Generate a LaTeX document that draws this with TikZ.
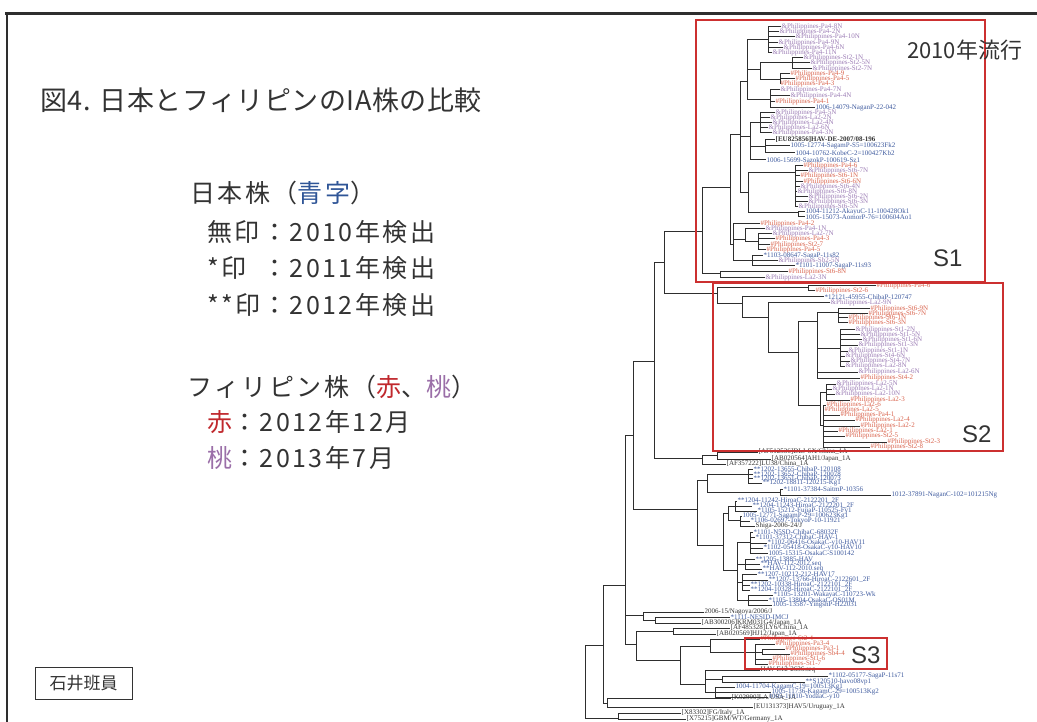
\documentclass[tikz,border=0pt]{standalone}
\usepackage{fontspec}
\setmainfont{Noto Sans CJK JP}
\newfontfamily\lgfont[LetterSpace=10]{Noto Sans CJK JP}
\newfontfamily\ttlfont[LetterSpace=2]{Noto Sans CJK JP}
\newfontfamily\treefont{Liberation Serif}
\newfontfamily\sfont{Liberation Sans}
\definecolor{tl}{HTML}{2E2E2E}
\definecolor{cpu}{HTML}{9C7DB5}
\definecolor{cre}{HTML}{D9654F}
\definecolor{cbl}{HTML}{3E5A9E}
\definecolor{cdk}{HTML}{333333}
\definecolor{boxred}{HTML}{CC3030}
\definecolor{lgblue}{HTML}{2F5597}
\definecolor{lgred}{HTML}{C0282D}
\definecolor{lgpink}{HTML}{9B6FA8}
\definecolor{txt}{HTML}{333333}
\tikzset{
  br/.style={draw=tl, line width=1pt},
  lbl/.style={anchor=west, inner sep=0.5pt, font=\treefont\fontsize{7}{7}\selectfont},
  rbox/.style={draw=boxred, line width=1.6pt},
  slab/.style={anchor=base west, inner sep=0, text=txt, font=\sfont\fontsize{24}{24}\selectfont},
  lgd/.style={anchor=west, inner sep=0, text=txt, font=\lgfont\fontsize{25}{25}\selectfont},
  frm/.style={draw=tl},
}
\newcommand\Tnd[4]{\coordinate (#2) at (#3,#4); \draw[br] (#1) |- (#2);}
\newcommand\Tlf[6]{\coordinate (#2) at (#3,#4); \draw[br] (#1) |- (#2); \node[lbl,text=#5] (#2-t) at (#2) {#6};}
\newcommand\LfP[5]{\Tlf{#1}{#2}{#3}{#4}{cpu}{\&Philippines-#5}}
\newcommand\LfR[5]{\Tlf{#1}{#2}{#3}{#4}{cre}{\#Philippines-#5}}
\newcommand\LfB[5]{\Tlf{#1}{#2}{#3}{#4}{cbl}{#5}}
\newcommand\LfD[5]{\Tlf{#1}{#2}{#3}{#4}{cdk}{#5}}
\begin{document}
\begin{tikzpicture}[x=1pt,y=-1pt]
\useasboundingbox (0,0) rectangle (1037,722);
% frame
\draw[frm, line width=3pt] (5,14) -- (1037,14);
\draw[frm, line width=2pt] (7,14) -- (7,722);
% title and legend
\node[anchor=west, inner sep=0, text=txt, font=\ttlfont\fontsize{27}{27}\selectfont] (title) at (40,100) {図4. 日本とフィリピンのIA株の比較};
\node[lgd] (lg1) at (190,193) {日本株（{\color{lgblue}青字}）};
\node[lgd] (lg2) at (207,232) {\makebox[2.2em][l]{無印}：2010年検出};
\node[lgd] (lg3) at (207,268) {\makebox[2.2em][l]{*印}：2011年検出};
\node[lgd] (lg4) at (207,305) {\makebox[2.2em][l]{**印}：2012年検出};
\node[lgd] (lg5) at (187,387) {フィリピン株（{\color{lgred}赤}、{\color{lgpink}桃}）};
\node[lgd] (lg6) at (207,422) {{\color{lgred}赤}：2012年12月};
\node[lgd] (lg7) at (207,458) {{\color{lgpink}桃}：2013年7月};
\node[draw=txt, line width=0.8pt, text=txt, font=\fontsize{17}{17}\selectfont, minimum width=97pt, minimum height=32pt, inner sep=0] (ishii) at (83.5,683) {石井班員};
% ---------------- tree ----------------
\coordinate (R) at (585,682);
\Tnd{R}{G}{603}{645}
\Tnd{R}{OG}{618}{718}
\LfD{OG}{og1}{681}{713}{[X83302]FG/Italy\_1A}
\LfD{OG}{og2}{686}{719}{[X75215]GBM/WT/Germany\_1A}
\Tnd{G}{D}{625}{585}
\Tnd{G}{H}{607}{703}
\LfD{H}{h1}{731}{698}{[K02990]LA/USA\_1A}
\LfD{H}{h2}{753}{707}{[EU131373]HAV5/Uruguay\_1A}
\Tnd{D}{C}{633}{435}
\Tnd{D}{N}{643}{615}
\Tnd{D}{F}{636}{644}
\Tnd{C}{A}{654}{361}
\Tnd{C}{J}{697}{509}
\Tnd{A}{B}{664}{263}
\Tnd{A}{AF}{702}{458}
\Tnd{AF}{AFd}{717}{455}
\LfD{AFd}{af1}{758}{452}{[AF512536]DLJ-SX/China\_1A}
\LfD{AFd}{af2}{771}{459}{[AB020564]AH1/Japan\_1A}
\LfD{AF}{af3}{726}{464}{[AF357222]LU38/China\_1A}
\Tnd{B}{S1r}{702}{232}
\Tnd{B}{S2r}{717}{294}
% S1
\Tnd{S1r}{S1a}{730}{188}
\Tnd{S1r}{S1b}{720}{274}
\LfR{S1b}{s1b1}{788}{272}{St6-8N}
\LfP{S1b}{s1b2}{765}{278}{La2-3N}
\Tnd{S1a}{S1t}{740}{135}
\Tnd{S1a}{S1u}{733}{245}
\Tnd{S1t}{P1}{747}{82}
\Tnd{S1t}{M}{750}{137}
\Tnd{S1t}{Q}{748}{193}
\Tnd{P1}{P1a}{768}{40}
\Tnd{P1}{P1b}{760}{70}
\Tnd{P1}{P1c}{770}{100}
\LfP{P1a}{p1}{781}{27}{Pa4-8N}
\LfP{P1a}{p2}{779}{32}{Pa4-2N}
\LfP{P1a}{p3}{795}{37}{Pa4-10N}
\LfP{P1a}{p4}{778}{43}{Pa4-9N}
\LfP{P1a}{p5}{783}{48}{Pa4-6N}
\LfP{P1a}{p6}{772}{53}{Pa4-11N}
\Tnd{P1b}{P1b1}{792}{63}
\Tnd{P1b}{P1b2}{780}{80}
\LfP{P1b1}{p7}{803}{58}{St2-1N}
\LfP{P1b1}{p8}{810}{63}{St2-5N}
\LfP{P1b1}{p9}{812}{69}{St2-7N}
\LfR{P1b2}{p10}{790}{74}{Pa4-9}
\LfR{P1b2}{p11}{795}{79}{Pa4-5}
\LfR{P1b2}{p12}{780}{84}{Pa4-3}
\LfP{P1c}{p13}{780}{90}{Pa4-7N}
\LfP{P1c}{p14}{790}{96}{Pa4-4N}
\LfR{P1c}{p15}{775}{102}{Pa4-1}
\LfB{P1c}{p16}{815}{108}{1006-14079-NaganP-22-042}
\Tnd{M}{M1}{760}{123}
\Tnd{M}{M2}{765}{147}
\LfP{M1}{m1}{775}{113}{Pa4-5N}
\LfP{M1}{m2}{770}{118}{La2-2N}
\LfP{M1}{m3}{772}{123}{La2-4N}
\LfP{M1}{m4}{768}{128}{La2-6N}
\LfP{M1}{m5}{772}{133}{Pa4-3N}
\LfD{M2}{m6}{775}{140}{\bfseries [EU825856]HAV-DE-2007/08-196}
\LfB{M2}{m7}{790}{146}{1005-12774-SagamP-S5=100623Fk2}
\LfB{M2}{m8}{795}{153}{1004-10762-KobeC-2=100427Kb2}
\LfB{M}{m9}{766}{160}{1006-15699-SazokP-100619-Sz1}
\Tnd{Q}{Q1}{795}{173}
\Tnd{Q}{Q2}{798}{213}
\LfR{Q1}{q1}{803}{166}{Pa4-6}
\LfP{Q1}{q2}{808}{171}{St6-7N}
\LfR{Q1}{q3}{800}{176}{St6-1N}
\LfR{Q1}{q4}{803}{182}{St6-6N}
\LfP{Q1}{q5}{800}{187}{St6-4N}
\LfP{Q1}{q6}{797}{192}{St6-8N}
\LfP{Q1}{q7}{808}{197}{St6-2N}
\LfP{Q1}{q8}{808}{202}{St6-3N}
\LfP{Q1}{q9}{798}{207}{St6-5N}
\LfB{Q2}{q10}{805}{212}{1004-11212-AkayuC-11-100428Ok1}
\LfB{Q2}{q11}{805}{217}{1005-15073-AomorP-76=100604Ao1}
\LfR{S1u}{u1}{760}{224}{Pa4-2}
\Tnd{S1u}{U1}{745}{240}
\Tnd{S1u}{U2}{752}{261}
\LfP{U1}{u2}{765}{229}{Pa4-1N}
\Tnd{U1}{U3}{758}{242}
\LfP{U3}{u3}{772}{234}{La2-7N}
\LfR{U3}{u4}{775}{239}{Pa4-3}
\LfR{U3}{u5}{770}{245}{St2-7}
\LfR{U3}{u6}{766}{250}{Pa4-5}
\LfB{U2}{u7}{763}{256}{*1103-08647-SagaP-11s82}
\LfP{U2}{u8}{778}{261}{Sb2-5N}
\LfB{U2}{u9}{795}{266}{*1101-11007-SagaP-11s93}
% S2
\Tnd{S2r}{S2a}{808}{288}
\Tnd{S2r}{S2b}{742}{304}
\LfR{S2a}{v1}{876}{286}{Pa4-6}
\LfR{S2a}{v2}{815}{291}{St2-6}
\LfB{S2b}{v3}{824}{297}{*12121-45955-ChibaP-120747}
\Tnd{S2b}{S2c}{768}{318}
\LfP{S2c}{v4}{830}{303}{La2-9N}
\Tnd{S2c}{S2d}{798}{352}
\Tnd{S2d}{S2e}{817}{322}
\Tnd{S2d}{S2h}{820}{405}
\Tnd{S2e}{S2f}{838}{313}
\Tnd{S2e}{S2g}{840}{348}
\LfR{S2f}{w1}{870}{309}{St6-9N}
\LfR{S2f}{w2}{868}{314}{St6-7N}
\LfR{S2f}{w3}{848}{318}{St6-1N}
\LfR{S2f}{w4}{848}{323}{St6-3N}
\LfP{S2g}{w5}{855}{330}{St1-2N}
\LfP{S2g}{w6}{860}{335}{St1-5N}
\LfP{S2g}{w7}{862}{340}{St1-6N}
\LfP{S2g}{w8}{858}{345}{St1-3N}
\LfP{S2g}{w9}{848}{351}{St1-1N}
\LfP{S2g}{w10}{845}{356}{St4-6N}
\LfP{S2g}{w11}{850}{361}{St4-7N}
\LfP{S2g}{w12}{845}{366}{La2-8N}
\LfP{S2e}{w13}{858}{372}{La2-6N}
\LfR{S2e}{w14}{860}{378}{St4-2}
\Tnd{S2h}{S2i}{826}{392}
\Tnd{S2h}{S2j}{823}{425}
\LfP{S2i}{x1}{836}{384}{La2-5N}
\LfP{S2i}{x2}{832}{389}{La2-1N}
\LfP{S2i}{x3}{835}{394}{La2-10N}
\LfR{S2i}{x4}{850}{400}{La2-3}
\LfR{S2j}{x5}{826}{405}{La2-6}
\LfR{S2j}{x6}{824}{410}{La2-5}
\LfR{S2j}{x7}{840}{415}{Pa4-1}
\LfR{S2j}{x8}{855}{420}{La2-4}
\LfR{S2j}{x9}{860}{426}{La2-2}
\LfR{S2j}{x10}{838}{431}{La2-1}
\LfR{S2j}{x11}{845}{436}{St2-5}
\LfR{S2j}{x12}{887}{442}{St2-3}
\LfR{S2j}{x13}{870}{447}{St2-8}
% Japan cluster
\Tnd{J}{J1}{707}{480}
\Tnd{J}{J2}{723}{545}
\Tnd{J1}{J1a}{748}{474}
\Tnd{J1}{J1b}{780}{492}
\LfB{J1a}{j1}{753}{469}{**1202-13655-ChibaP-120108}
\LfB{J1a}{j2}{753}{474}{**1202-13652-ChibaP-120078}
\LfB{J1a}{j3}{753}{478}{**1202-13651-ChibaP-120073}
\LfB{J1a}{j4}{762}{483}{**1202-18811-120215-Kg1}
\LfB{J1b}{j5}{783}{489}{*1101-37384-SaitmP-10356}
\LfB{J1b}{j6}{891}{495}{1012-37891-NaganC-102=101215Ng}
\Tnd{J2}{J2a}{728}{513}
\Tnd{J2}{J2b}{737}{570}
\Tnd{J2a}{J2a1}{735}{506}
\Tnd{J2a}{J2a2}{740}{520}
\LfB{J2a1}{k1}{737}{501}{**1204-11242-HiroaC-2122201\_2F}
\LfB{J2a1}{k2}{752}{506}{**1204-11243-HiroaC-2122201\_2F}
\LfB{J2a1}{k3}{757}{511}{*1105-15212-FujiaP-110525-Fy1}
\LfB{J2a2}{k4}{742}{516}{1005-12771-SagamP-29=100623Kg1}
\LfB{J2a2}{k5}{750}{521}{*1106-02697-TokyoP-10-11921}
\LfD{J2a2}{k6}{755}{526}{Shiga-2006-24/J}
\Tnd{J2b}{J2b1}{750}{542}
\Tnd{J2b}{J2b2}{745}{564}
\Tnd{J2b}{J2b3}{742}{582}
\Tnd{J2b}{J2b4}{748}{600}
\LfB{J2b1}{k7}{753}{532}{*1101-N5SD-ChibaC-68032F}
\LfB{J2b1}{k8}{755}{537}{*1101-37312-ChibaC-HAV-1}
\LfB{J2b1}{k9}{767}{543}{*1102-06416-OsakaC-y10-HAV11}
\LfB{J2b1}{k10}{763}{548}{*1102-05418-OsakaC-y10-HAV10}
\LfB{J2b1}{k11}{768}{553}{1005-15315-OsakaC-S100142}
\LfB{J2b2}{k12}{755}{559}{**1205-13885-HAV}
\LfB{J2b2}{k13}{760}{564}{**HAV-112-2012.seq}
\LfB{J2b2}{k14}{762}{569}{**HAV-112-2010.seq}
\LfB{J2b3}{k15}{757}{574}{**1207-10212-212-HAV17}
\LfB{J2b3}{k16}{768}{580}{**1207-13766-HiroaC-2122601\_2F}
\LfB{J2b3}{k17}{750}{585}{**1202-10338-HiroaC-2122101\_2F}
\LfB{J2b3}{k18}{750}{590}{**1204-10328-HiroaC-2122101\_2F}
\LfB{J2b4}{k19}{773}{595}{*1105-13201-WakayaC-110723-Wk}
\LfB{J2b4}{k20}{768}{600}{*1105-13804-OsakaC-OS01M}
\LfB{J2b4}{k21}{772}{605}{1005-13587-YingshP-H22031}
% N
\LfD{N}{n1}{704}{612}{2006-15/Nagoya/2006/J}
\Tnd{N}{N2}{655}{620}
\LfB{N2}{n2}{730}{617}{*1111-NESID-IMCJ}
\LfD{N2}{n3}{701}{623}{[AB300206]KRM031G4/Japan\_1A}
% F
\Tnd{F}{F1}{673}{631}
\Tnd{F}{F2}{680}{660}
\LfD{F1}{f1}{730}{628}{[AF485328]LY6/China\_1A}
\LfD{F1}{f2}{716}{634}{[AB020569]HJ12/Japan\_1A}
\Tnd{F2}{F3}{710}{646}
\Tnd{F2}{F4}{705}{684}
\Tnd{F3}{S3a}{755}{652}
\LfR{F3}{t1}{760}{639}{St2-4}
\LfR{S3a}{t2}{775}{644}{Pa3-4}
\Tnd{S3a}{S3b}{762}{652}
\LfR{S3b}{t3}{785}{649}{Pa3-1}
\LfR{S3b}{t4}{790}{654}{Sb4-4}
\LfR{S3a}{t5}{772}{659}{St1-6}
\LfR{S3a}{t6}{768}{664}{St1-7}
\LfD{F4}{g1}{760}{670}{HAV-E12-2636.seq}
\Tnd{F4}{F4a}{722}{679}
\Tnd{F4}{F4b}{715}{692}
\LfB{F4a}{g2}{828}{676}{*1102-05177-SagaP-11s71}
\LfB{F4a}{g3}{805}{682}{**S120510-havo08vp1}
\LfB{F4b}{g4}{735}{687}{1004-11704-KagamC-19=100513Kg1}
\LfB{F4b}{g5}{771}{692}{1005-11736-KagamC-29=100513Kg2}
\LfB{F4b}{g6}{768}{697}{1005-11010-YodaaC-y10}
% ---------------- boxes ----------------
\draw[rbox] (696,20) rectangle (985,282);
\draw[rbox] (713,283) rectangle (1003,451);
\draw[rbox] (745,638) rectangle (887,669);
\node[slab] (s1l) at (933,267) {S1};
\node[slab] (s2l) at (962,442) {S2};
\node[slab] (s3l) at (851,663) {S3};
\node[anchor=west, inner sep=0, text=txt, font=\fontsize{22}{22}\selectfont] (ryu) at (907,50) {2010年流行};
\end{tikzpicture}
\end{document}
